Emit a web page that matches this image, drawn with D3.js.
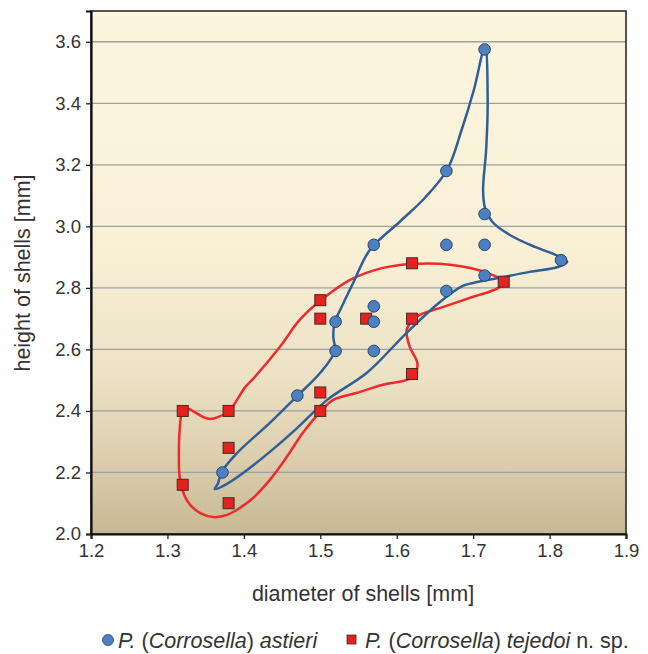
<!DOCTYPE html>
<html><head><meta charset="utf-8">
<script src="https://cdn.jsdelivr.net/npm/d3@7"></script>
<style>
html,body{margin:0;padding:0;background:#fff;}
svg{display:block;font-family:"Liberation Sans",Arial,sans-serif;}
</style></head>
<body><svg id="c" width="648" height="654"></svg>
<script>
// ---- data ----
const xTicks = [1.2,1.3,1.4,1.5,1.6,1.7,1.8,1.9];
const yTicks = [2.0,2.2,2.4,2.6,2.8,3.0,3.2,3.4,3.6];
const astieriD = [1.715,1.665,1.715,1.57,1.665,1.715,1.815,1.715,1.665,1.57,1.52,1.57,1.52,1.57,1.47,1.372];
const astieriH = [3.575,3.18,3.04,2.94,2.94,2.94,2.89,2.84,2.79,2.74,2.69,2.69,2.595,2.595,2.45,2.20];
const tejedoiD = [1.62,1.74,1.50,1.50,1.56,1.62,1.62,1.50,1.50,1.32,1.38,1.38,1.32,1.38];
const tejedoiH = [2.88,2.82,2.76,2.70,2.70,2.70,2.52,2.46,2.40,2.40,2.40,2.28,2.16,2.10];
// hand-drawn envelopes (diameter, height)
const astieriHull = [[1.7155,3.584],[1.719,3.411],[1.717,3.249],[1.713,3.119],[1.7155,3.060],[1.725,3.015],[1.748,2.972],[1.781,2.933],[1.811,2.904],[1.823,2.885],[1.811,2.868],[1.774,2.852],[1.735,2.833],[1.700,2.816],[1.687,2.807],[1.657,2.755],[1.613,2.654],[1.561,2.524],[1.509,2.436],[1.470,2.345],[1.434,2.267],[1.399,2.198],[1.378,2.163],[1.362,2.146],[1.366,2.163],[1.371,2.202],[1.391,2.263],[1.434,2.361],[1.470,2.449],[1.500,2.524],[1.519,2.595],[1.517,2.641],[1.519,2.689],[1.526,2.728],[1.543,2.816],[1.565,2.924],[1.604,3.015],[1.637,3.093],[1.666,3.184],[1.685,3.314],[1.701,3.444]];
const tejedoiHull = [[1.320,2.400],[1.327,2.407],[1.335,2.397],[1.347,2.380],[1.356,2.374],[1.366,2.380],[1.381,2.400],[1.391,2.436],[1.401,2.475],[1.412,2.504],[1.447,2.608],[1.473,2.696],[1.500,2.758],[1.539,2.826],[1.582,2.865],[1.621,2.878],[1.670,2.875],[1.718,2.849],[1.740,2.820],[1.733,2.800],[1.700,2.771],[1.657,2.735],[1.630,2.712],[1.620,2.693],[1.613,2.663],[1.617,2.608],[1.627,2.556],[1.624,2.520],[1.613,2.501],[1.582,2.485],[1.548,2.459],[1.517,2.436],[1.500,2.397],[1.477,2.328],[1.456,2.250],[1.434,2.176],[1.412,2.117],[1.395,2.085],[1.378,2.062],[1.360,2.055],[1.343,2.068],[1.330,2.094],[1.322,2.127],[1.316,2.185],[1.315,2.263],[1.316,2.338]];

// ---- layout ----
const svg = d3.select("#c");
const L=91, R=626, T=11, B=534;
const x = d3.scaleLinear().domain([1.2,1.9]).range([L,R]);
const y = d3.scaleLinear().domain([2.0,3.7]).range([B,T]);

const defs = svg.append("defs");
const g = defs.append("linearGradient").attr("id","bg").attr("x1",0).attr("y1",0).attr("x2",0).attr("y2",1);
[[0,"#fcf5de"],[0.45,"#f9f0d6"],[0.7,"#ece1c4"],[0.85,"#ddcfae"],[1,"#c8b994"]].forEach(s=>g.append("stop").attr("offset",s[0]).attr("stop-color",s[1]));

svg.append("rect").attr("x",L).attr("y",T).attr("width",R-L).attr("height",B-T).attr("fill","url(#bg)");

// grid
svg.append("g").selectAll("line").data(yTicks.filter(d=>d>2.0)).join("line")
  .attr("x1",L).attr("x2",R).attr("y1",d=>y(d)).attr("y2",d=>y(d))
  .attr("stroke","#9ba0a6").attr("stroke-width",1.3);

// frame
svg.append("rect").attr("x",L).attr("y",T).attr("width",R-L).attr("height",B-T)
  .attr("fill","none").attr("stroke","#2b2b2b").attr("stroke-width",1.6);

// axes
const xAxis = d3.axisBottom(x).tickValues(xTicks).tickFormat(d3.format(".1f")).tickSize(5).tickPadding(5);
const yAxis = d3.axisLeft(y).tickValues(yTicks).tickFormat(d3.format(".1f")).tickSize(5).tickPadding(5);
const gx = svg.append("g").attr("transform",`translate(0,${B})`).call(xAxis);
const gy = svg.append("g").attr("transform",`translate(${L},0)`).call(yAxis);
[gx,gy].forEach(a=>{
  a.select(".domain").attr("stroke","#111").attr("stroke-width",2.2);
  a.selectAll(".tick line").attr("stroke","#222").attr("stroke-width",1.3);
  a.selectAll(".tick text").attr("fill","#333").style("font-size","18.5px").style("font-family","'Liberation Sans',Arial,sans-serif");
});

// axis titles
svg.append("text").attr("x",363).attr("y",601).attr("text-anchor","middle")
  .attr("fill","#333").style("font-size","21.5px").text("diameter of shells [mm]");
svg.append("text").attr("transform",`translate(30,273) rotate(-90)`).attr("text-anchor","middle")
  .attr("fill","#333").style("font-size","21.5px").text("height of shells [mm]");

// envelopes
const line = d3.line().x(d=>x(d[0])).y(d=>y(d[1])).curve(d3.curveCatmullRomClosed.alpha(0.5));
svg.append("path").attr("d",line(tejedoiHull)).attr("fill","none").attr("stroke","#ee2a2c").attr("stroke-width",2.5);
svg.append("path").attr("d",line(astieriHull)).attr("fill","none").attr("stroke","#2f5f97").attr("stroke-width",2.5);

// points
const sq = 11;
svg.append("g").selectAll("rect").data(d3.range(tejedoiD.length)).join("rect")
  .attr("x",i=>x(tejedoiD[i])-sq/2).attr("y",i=>y(tejedoiH[i])-sq/2).attr("width",sq).attr("height",sq)
  .attr("fill","#e6211f").attr("stroke","#4a2a22").attr("stroke-width",1);
svg.append("g").selectAll("circle").data(d3.range(astieriD.length)).join("circle")
  .attr("cx",i=>x(astieriD[i])).attr("cy",i=>y(astieriH[i])).attr("r",5.8)
  .attr("fill","#4b80c2").attr("stroke","#2c4266").attr("stroke-width",1);

// legend
const lg = svg.append("g").style("font-size","21.5px").attr("fill","#333");
lg.append("circle").attr("cx",108).attr("cy",640).attr("r",5.5).attr("fill","#4b80c2").attr("stroke","#2c4266").attr("stroke-width",0.8);
const t1 = lg.append("text").attr("x",118).attr("y",647.5);
t1.append("tspan").style("font-style","italic").text("P.");
t1.append("tspan").text(" (");
t1.append("tspan").style("font-style","italic").text("Corrosella");
t1.append("tspan").text(") ");
t1.append("tspan").style("font-style","italic").text("astieri");
lg.append("rect").attr("x",347).attr("y",635).attr("width",9).attr("height",9).attr("fill","#e6211f").attr("stroke","#4a2a22").attr("stroke-width",0.8);
const t2 = lg.append("text").attr("x",365).attr("y",647.5);
t2.append("tspan").style("font-style","italic").text("P.");
t2.append("tspan").text(" (");
t2.append("tspan").style("font-style","italic").text("Corrosella");
t2.append("tspan").text(") ");
t2.append("tspan").style("font-style","italic").text("tejedoi");
t2.append("tspan").text(" n. sp.");
</script></body></html>
